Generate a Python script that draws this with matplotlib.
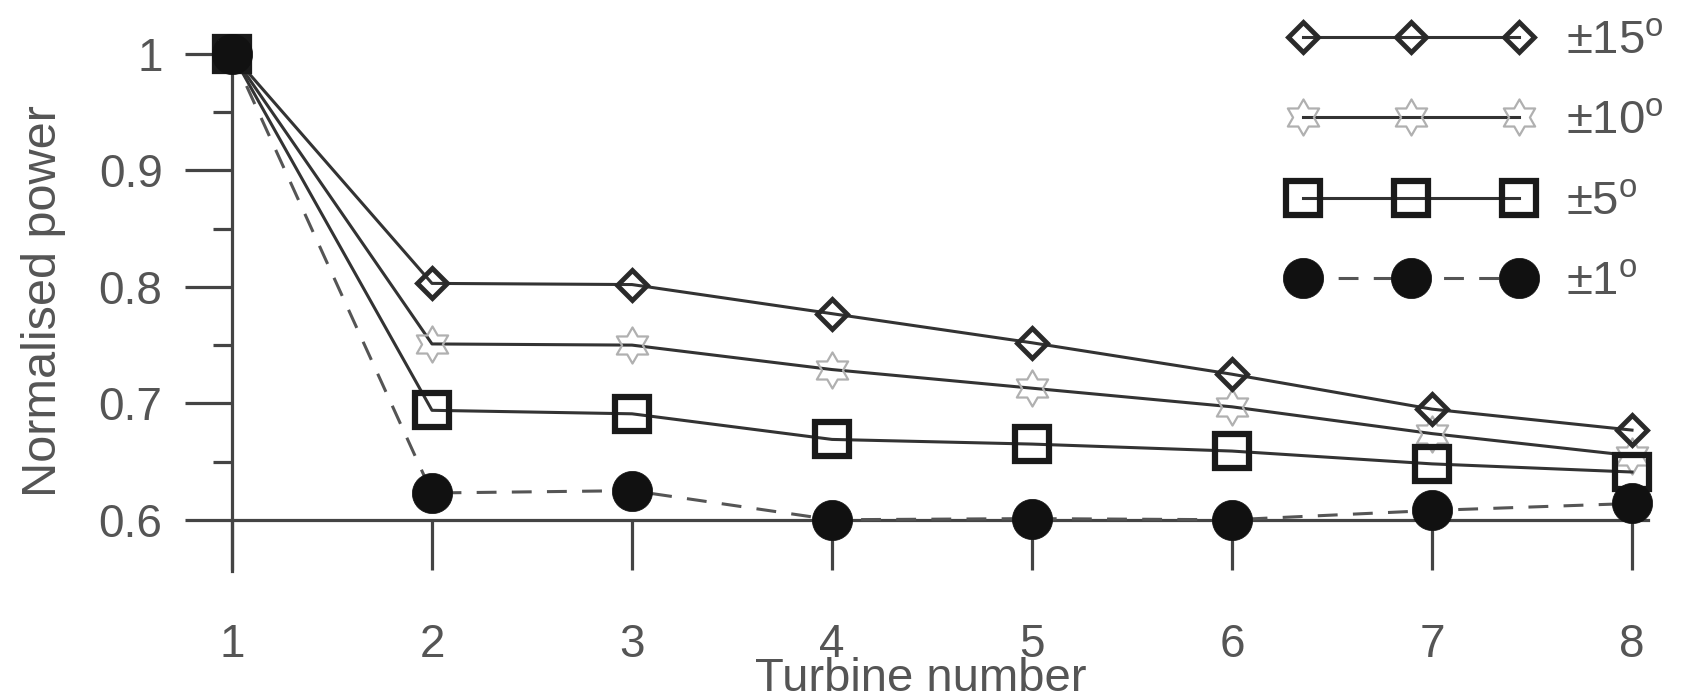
import numpy as np
import matplotlib
matplotlib.use("Agg")
import matplotlib.pyplot as plt
from matplotlib.path import Path

plt.rcParams['font.family'] = ['Liberation Sans', 'DejaVu Sans']
plt.rcParams['mathtext.default'] = 'regular'

# ---------------- data ----------------
turbines = [1, 2, 3, 4, 5, 6, 7, 8]
power_15 = [1.0, 0.803, 0.802, 0.777, 0.752, 0.725, 0.695, 0.677]
power_10 = [1.0, 0.751, 0.750, 0.729, 0.713, 0.697, 0.674, 0.655]
power_5 = [1.0, 0.694, 0.691, 0.669, 0.665, 0.659, 0.648, 0.641]
power_1 = [1.0, 0.623, 0.625, 0.600, 0.601, 0.600, 0.608, 0.614]
labels = ['±15$^{\\mathregular{o}}$', '±10$^{\\mathregular{o}}$',
          '±5$^{\\mathregular{o}}$', '±1$^{\\mathregular{o}}$']
yticks = [0.6, 0.7, 0.8, 0.9, 1.0]
ytick_labels = ['0.6', '0.7', '0.8', '0.9', '1']
yminor = [0.65, 0.75, 0.85, 0.95]

# hexagram marker
ang = np.pi / 2 + np.arange(12) * np.pi / 6
rad = np.where(np.arange(12) % 2 == 0, 1.0, 1 / np.sqrt(3))
verts = np.column_stack([rad * np.cos(ang), rad * np.sin(ang)])
verts = np.vstack([verts, verts[:1]])
hexagram = Path(verts, closed=True)

TXT = '#555555'
AX = '#444444'
LINE = '#333333'

fig = plt.figure(figsize=(16.89, 6.99), dpi=100)
ax = fig.add_axes([232 / 1689, 1 - 571 / 699, (1648 - 232) / 1689, (571 - 54) / 699])

lw = 2.2
ax.plot(turbines, power_15, color=LINE, lw=lw, marker='D', ms=15, mew=3.5,
        mec='#2a2a2a', mfc='none', clip_on=False, label=labels[0], zorder=4)
ax.plot(turbines, power_10, color=LINE, lw=lw, marker=hexagram, ms=26, mew=1.6,
        mec='#b0b0b0', mfc='none', clip_on=False, label=labels[1], zorder=3)
ax.plot(turbines, power_5, color=LINE, lw=lw, marker='s', ms=25, mew=4.5,
        mec='#1a1a1a', mfc='none', clip_on=False, label=labels[2], zorder=5)
ax.plot(turbines, power_1, color='#555555', lw=lw, ls=(0, (6.5, 5)), marker='o',
        ms=29, mew=0.5, mec='#111111', mfc='#111111', clip_on=False,
        label=labels[3], zorder=6)

ax.set_xlim(1, 8.08)
ax.set_ylim(0.556, 1.0)

for s in ['top', 'right']:
    ax.spines[s].set_visible(False)
ax.spines['bottom'].set_position(('data', 0.6))
for s in ['left', 'bottom']:
    ax.spines[s].set_color(AX)
    ax.spines[s].set_linewidth(2.3)

ax.set_xticks(turbines)
ax.set_xticklabels([str(t) for t in turbines])
ax.set_yticks(yticks)
ax.set_yticklabels(ytick_labels)
ax.set_yticks(yminor, minor=True)
ax.tick_params(axis='x', direction='out', length=36, width=2.3, color=AX,
               labelsize=33, labelcolor=TXT, pad=38)
ax.tick_params(axis='y', which='major', direction='out', length=34, width=2.3,
               color=AX, labelsize=33, labelcolor=TXT, pad=16)
ax.tick_params(axis='y', which='minor', direction='out', length=14, width=2.3,
               color=AX)

ax.set_xlabel('Turbine number', fontsize=34, color=TXT)
ax.xaxis.set_label_coords(0.4866, -0.208)
ax.xaxis.label.set_va('center')
ax.set_ylabel('Normalised power', fontsize=35, color=TXT)
ax.yaxis.set_label_coords(-0.133, 0.522)
ax.yaxis.label.set_va('center')

leg = ax.legend(loc='upper left', bbox_to_anchor=(1289 / 1689, 0.972),
                bbox_transform=fig.transFigure, numpoints=3, handlelength=5.17,
                handletextpad=0.7, labelspacing=0.77, frameon=False,
                borderpad=0, borderaxespad=0, fontsize=34)
for t in leg.get_texts():
    t.set_color(TXT)

fig.savefig('out.png', dpi=100)
